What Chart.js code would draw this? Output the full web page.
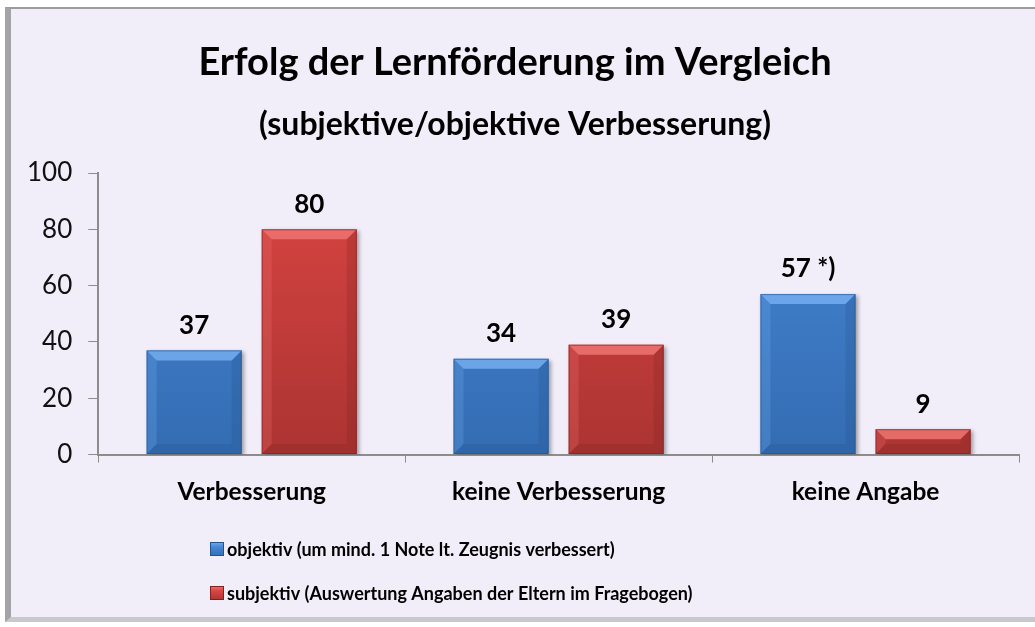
<!DOCTYPE html>
<html>
<head>
<meta charset="utf-8">
<script src="https://cdn.jsdelivr.net/npm/chart.js"></script>
<style>
  body { margin: 0; background: #fff; }
  #frame {
    position: absolute; left: 5px; top: 7px; width: 1030px; height: 615px;
    background: #f1edf9; box-sizing: border-box;
    border-left: 6px solid #a4a4a8; border-top: 2px solid #9c9c9c; border-bottom: 5px solid #c9c8cf;
  }
  #wrap { position: absolute; left: 0; top: 0; width: 1035px; height: 627px; }
</style>
</head>
<body>
<div id="frame"></div>
<div id="wrap"><canvas id="bars"></canvas></div>
<script>
const FONT = 'Lato, "Open Sans", sans-serif'

const categories = ['Verbesserung', 'keine Verbesserung', 'keine Angabe']
const objektiv = [37, 34, 57]
const subjektiv = [80, 39, 9]
const objektivNotes = ['', '', ' *)']
const subjektivNotes = ['', '', '']
const seriesNames = [
  'objektiv (um mind. 1 Note lt. Zeugnis verbessert)',
  'subjektiv (Auswertung Angaben der Eltern im Fragebogen)',
]
const titleText = 'Erfolg der Lernförderung im Vergleich'
const subtitleText = '(subjektive/objektive Verbesserung)'

// colours per series: [top, bottom, light bevel, dark bevel]
const palette = [
  ['#4787d6', '#336cb2', '#74aef0', '#24528c'],
  ['#da4543', '#ab3432', '#ee7472', '#7e2221'],
]

function gradFor(i) {
  return function (ctx) {
    const area = ctx.chart.chartArea
    if (!area) return palette[i][0]
    const g = ctx.chart.ctx.createLinearGradient(0, area.top, 0, area.bottom)
    g.addColorStop(0, palette[i][0])
    g.addColorStop(1, palette[i][1])
    return g
  }
}

// bevel look + shadow on the bars
const bevelPlugin = {
  id: 'bevel',
  beforeDatasetsDraw(chart) {
    const c = chart.ctx
    c.save()
    c.shadowColor = 'rgba(0,0,0,0.35)'
    c.shadowBlur = 4
    c.shadowOffsetX = 2
    c.shadowOffsetY = 2
  },
  afterDatasetsDraw(chart) {
    const c = chart.ctx
    c.restore()
    chart.data.datasets.forEach((ds, di) => {
      chart.getDatasetMeta(di).data.forEach(bar => {
        const l = bar.x - bar.width / 2, r = bar.x + bar.width / 2
        const t = bar.y, b = bar.base
        const s = Math.min(10, (b - t) / 2)
        const p = palette[di]
        const poly = (pts, col, a) => {
          c.save()
          c.globalAlpha = a
          c.fillStyle = col
          c.beginPath()
          c.moveTo(pts[0][0], pts[0][1])
          pts.slice(1).forEach(q => c.lineTo(q[0], q[1]))
          c.closePath()
          c.fill()
          c.restore()
        }
        poly([[l, t], [r, t], [r - s, t + s], [l + s, t + s]], p[2], 0.85)
        poly([[l, t], [l + s, t + s], [l + s, b - s], [l, b]], p[2], 0.25)
        poly([[r, t], [r, b], [r - s, b - s], [r - s, t + s]], p[3], 0.25)
        poly([[l, b], [l + s, b - s], [r - s, b - s], [r, b]], p[3], 0.25)
        c.save()
        c.strokeStyle = p[3]
        c.globalAlpha = 0.6
        c.lineWidth = 1
        c.strokeRect(l + 0.5, t + 0.5, r - l - 1, b - t - 1)
        c.restore()
      })
    })
  },
}

// value labels above the bars
const valueLabels = {
  id: 'valueLabels',
  afterDraw(chart) {
    const c = chart.ctx
    const notes = [objektivNotes, subjektivNotes]
    c.save()
    c.font = 'bold 26px ' + FONT
    c.fillStyle = '#000'
    c.textAlign = 'center'
    c.textBaseline = 'middle'
    chart.data.datasets.forEach((ds, di) => {
      chart.getDatasetMeta(di).data.forEach((bar, i) => {
        c.fillText(ds.data[i] + notes[di][i], bar.x, bar.y - 25)
      })
    })
    c.restore()
  },
}

// legend as two stacked rows
const stackedLegend = {
  id: 'stackedLegend',
  afterDraw(chart) {
    const c = chart.ctx
    const x0 = 210
    const rows = [549, 593]
    c.save()
    c.font = 'bold 18px ' + FONT
    c.textBaseline = 'middle'
    c.textAlign = 'left'
    chart.data.datasets.forEach((ds, di) => {
      const y = rows[di]
      const p = palette[di]
      const g = c.createLinearGradient(0, y - 7, 0, y + 7)
      g.addColorStop(0, p[2])
      g.addColorStop(0.35, p[0])
      g.addColorStop(1, p[1])
      c.fillStyle = g
      c.fillRect(x0, y - 7, 14, 14)
      c.strokeStyle = p[3]
      c.lineWidth = 1
      c.strokeRect(x0 + 0.5, y - 6.5, 13, 13)
      c.fillStyle = '#000'
      c.fillText(ds.label, x0 + 17, y + 1)
    })
    c.restore()
  },
}

const barConfig = {
  type: 'bar',
  data: {
    labels: categories,
    datasets: [
      {
        label: seriesNames[0],
        data: objektiv,
        backgroundColor: gradFor(0),
        borderWidth: 0,
      },
      {
        label: seriesNames[1],
        data: subjektiv,
        backgroundColor: gradFor(1),
        borderWidth: 0,
      },
    ],
  },
  options: {
    responsive: false,
    animation: false,
    categoryPercentage: 0.75,
    barPercentage: 0.826,
    layout: {
      padding: { left: 11, right: 16, top: 0, bottom: 105 },
    },
    plugins: {
      legend: { display: false },
      tooltip: { enabled: false },
      title: {
        display: true,
        text: titleText,
        color: '#000',
        font: { family: FONT, size: 38, weight: 'bold' },
        padding: { top: 40, bottom: 12 },
      },
      subtitle: {
        display: true,
        text: subtitleText,
        color: '#000',
        font: { family: FONT, size: 32, weight: 'bold' },
        padding: { top: 8, bottom: 29 },
      },
    },
    scales: {
      x: {
        grid: { drawOnChartArea: false, tickLength: 8, color: '#8c8c8c' },
        border: { color: '#8c8c8c', width: 2 },
        ticks: { color: '#000', font: { family: FONT, size: 24.5, weight: 'bold' }, padding: 15 },
      },
      y: {
        min: 0,
        max: 100,
        grid: { drawOnChartArea: false, tickLength: 10, color: '#8c8c8c' },
        border: { color: '#8c8c8c', width: 2 },
        ticks: { stepSize: 20, color: '#111', font: { family: FONT, size: 26 }, padding: 16 },
      },
    },
  },
  plugins: [bevelPlugin, valueLabels, stackedLegend],
}

const barsCtx = document.getElementById('bars')
barsCtx.width = 1035
barsCtx.height = 627
window.myBar = new Chart(barsCtx, barConfig)
</script>
</body>
</html>
